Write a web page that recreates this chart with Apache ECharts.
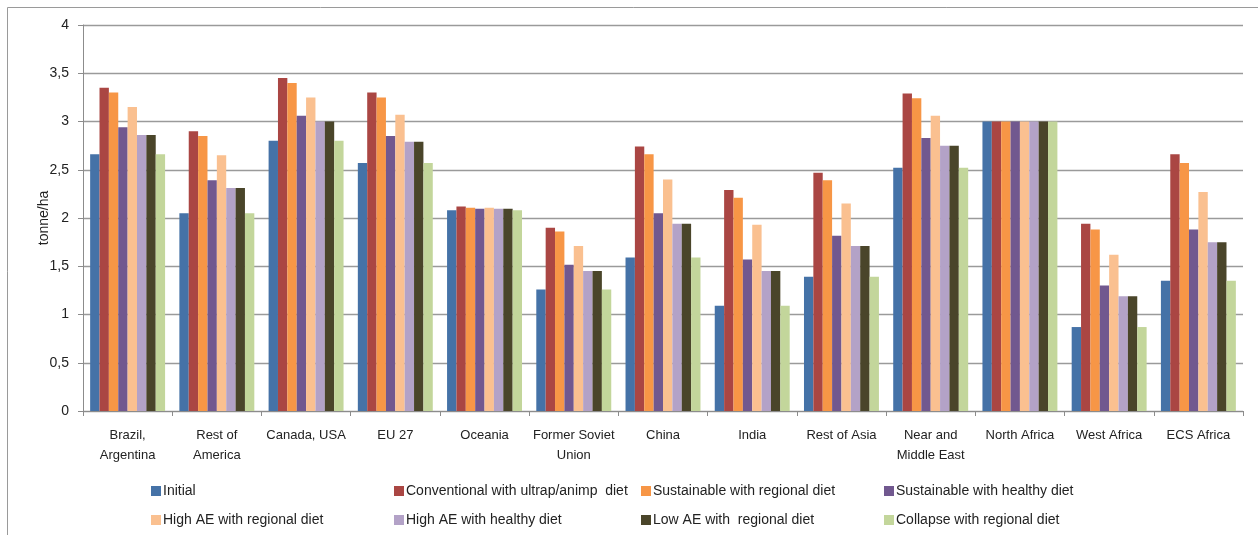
<!DOCTYPE html>
<html>
<head>
<meta charset="utf-8">
<script src="https://cdn.jsdelivr.net/npm/echarts@6/dist/echarts.min.js"></script>
<style>
html,body{margin:0;padding:0;background:#fff;}
#chart{width:1258px;height:535px;}
</style>
</head>
<body>
<div id="chart"></div>
<script>
const categories = ["Brazil,\nArgentina", "Rest of\nAmerica", "Canada, USA", "EU 27", "Oceania", "Former Soviet\nUnion", "China", "India", "Rest of Asia", "Near and\nMiddle East", "North Africa", "West Africa", "ECS Africa"];
const seriesNames = ["Initial", "Conventional with ultrap/animp  diet", "Sustainable with regional diet", "Sustainable with healthy diet", "High AE with regional diet", "High AE with healthy diet", "Low AE with  regional diet", "Collapse with regional diet"];
const initial      = [2.66, 2.05, 2.80, 2.57, 2.08, 1.26, 1.59, 1.09, 1.39, 2.52, 3.00, 0.87, 1.35];
const conventional = [3.35, 2.90, 3.45, 3.30, 2.12, 1.90, 2.74, 2.29, 2.47, 3.29, 3.00, 1.94, 2.66];
const sustRegional = [3.30, 2.85, 3.40, 3.25, 2.105, 1.86, 2.66, 2.21, 2.39, 3.24, 3.00, 1.88, 2.57];
const sustHealthy  = [2.94, 2.39, 3.06, 2.85, 2.095, 1.515, 2.05, 1.57, 1.815, 2.83, 3.00, 1.30, 1.88];
const highAERegional = [3.15, 2.65, 3.25, 3.07, 2.105, 1.71, 2.40, 1.93, 2.15, 3.06, 3.00, 1.62, 2.27];
const highAEHealthy  = [2.86, 2.31, 3.00, 2.79, 2.095, 1.45, 1.94, 1.45, 1.71, 2.75, 3.00, 1.19, 1.75];
const lowAERegional  = [2.86, 2.31, 3.00, 2.79, 2.095, 1.45, 1.94, 1.45, 1.71, 2.75, 3.00, 1.19, 1.75];
const collapseRegional = [2.66, 2.05, 2.80, 2.57, 2.08, 1.26, 1.59, 1.09, 1.39, 2.52, 3.00, 0.87, 1.35];
const yTicks = {min: 0, max: 4, interval: 0.5};

const allData = [initial, conventional, sustRegional, sustHealthy, highAERegional, highAEHealthy, lowAERegional, collapseRegional];
const colors = ["#4572A7", "#AA4643", "#F79646", "#71588F", "#FAC090", "#B3A2C7", "#4A452A", "#C3D69B"];
const FONT = "Liberation Sans";

const legendPos = [
  [146, 479], [389, 479], [636, 479], [879, 479],
  [146, 508], [389, 508], [636, 508], [879, 508]
];

const chart = echarts.init(document.getElementById('chart'), null, {renderer: 'canvas'});
chart.setOption({
  animation: false,
  backgroundColor: '#fff',
  textStyle: {fontFamily: FONT},
  graphic: [{
    type: 'rect', silent: true,
    shape: {x: 7.5, y: 7.5, width: 1300, height: 600},
    style: {fill: 'none', stroke: '#9a9a9a', lineWidth: 1}
  }],
  legend: seriesNames.map((n, i) => ({
    data: [n],
    left: legendPos[i][0], top: legendPos[i][1],
    itemWidth: 10, itemHeight: 10, itemGap: 0,
    icon: 'rect',
    textStyle: {fontFamily: FONT, fontSize: 14, color: '#222', padding: [0, 0, 0, -3]},
    selectedMode: false
  })),
  grid: {left: 83, right: 15, top: 25, bottom: 124, containLabel: false},
  xAxis: {
    type: 'category',
    data: categories,
    axisLine: {lineStyle: {color: '#8c8c8c', width: 1}},
    axisTick: {show: true, length: 5, lineStyle: {color: '#8c8c8c'}},
    axisLabel: {interval: 0, fontFamily: FONT, fontSize: 13, color: '#222', lineHeight: 20, margin: 14}
  },
  yAxis: {
    type: 'value',
    min: yTicks.min, max: yTicks.max, interval: yTicks.interval,
    name: 'tonne/ha',
    nameLocation: 'middle',
    nameGap: 32,
    nameRotate: 90,
    nameMoveOverlap: false,
    nameTextStyle: {fontFamily: FONT, fontSize: 14, color: '#222'},
    axisLine: {show: true, lineStyle: {color: '#8c8c8c'}},
    axisTick: {show: true, length: 5, lineStyle: {color: '#8c8c8c'}},
    axisLabel: {fontFamily: FONT, fontSize: 14, color: '#222', margin: 14,
      formatter: v => String(v).replace('.', ',')},
    splitLine: {show: true, lineStyle: {color: '#9a9a9a', width: 1.3}}
  },
  series: seriesNames.map((n, i) => ({
    name: n,
    type: 'bar',
    data: allData[i],
    barGap: '0%',
    barCategoryGap: '16%',
    itemStyle: {color: colors[i]}
  }))
});
</script>
</body>
</html>
